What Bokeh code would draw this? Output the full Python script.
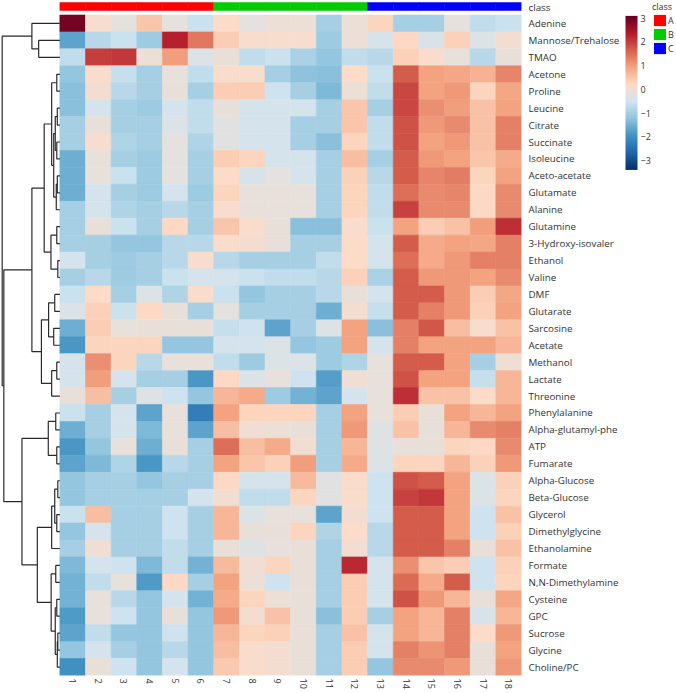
import numpy as np
from bokeh.plotting import figure
from bokeh.models import (LinearColorMapper, ColorBar, FixedTicker, LinearAxis, Range1d,
                          ColumnDataSource, Legend, LegendItem)
from bokeh.layouts import row
from bokeh.transform import transform
from bokeh.embed import file_html
from bokeh.resources import INLINE

# ---------------- data ----------------
metabolites = ["Adenine", "Mannose/Trehalose", "TMAO", "Acetone", "Proline", "Leucine", "Citrate",
               "Succinate", "Isoleucine", "Aceto-acetate", "Glutamate", "Alanine", "Glutamine",
               "3-Hydroxy-isovaler", "Ethanol", "Valine", "DMF", "Glutarate", "Sarcosine", "Acetate",
               "Methanol", "Lactate", "Threonine", "Phenylalanine", "Alpha-glutamyl-phe", "ATP",
               "Fumarate", "Alpha-Glucose", "Beta-Glucose", "Glycerol", "Dimethylglycine",
               "Ethanolamine", "Formate", "N,N-Dimethylamine", "Cysteine", "GPC", "Sucrose",
               "Glycine", "Choline/PC"]
samples = [str(i) for i in range(1, 19)]
sample_class = ["A"] * 6 + ["B"] * 6 + ["C"] * 6
class_names = ["A", "B", "C"]
class_colors = ["#FF0000", "#00CC00", "#0000FF"]
cbar_ticks = [-3, -2, -1, 0, 1, 2, 3]

values = [
    [2.95, 0.1, -0.2, 0.5, -0.2, -0.6, 0.2, -0.2, -0.05, -0.05, -1.0, -0.05, 0.3, -1.0, -1.0, -0.2, -0.7, -0.6],
    [-1.7, -0.8, -0.6, -1.1, 2.3, 1.4, 0.4, 0.1, 0.1, 0.1, -1.1, -0.05, -0.4, 0.25, -0.4, 0.35, -0.35, 0.05],
    [-0.7, 2.0, 2.05, -0.05, 1.0, -0.35, -0.1, -0.7, -0.6, -0.95, -1.2, -0.7, -0.8, 0.35, 0.15, -0.15, -0.8, -0.1],
    [-1.2, 0.15, -0.65, -1.0, -0.15, -0.7, 0.15, 0.1, -1.0, -1.25, -1.3, 0.2, -0.6, 1.7, 0.95, 0.9, 0.75, 1.25],
    [-1.3, 0.05, -0.8, -1.0, -0.1, -1.0, 0.4, 0.4, -0.55, -1.0, -1.4, -0.05, -0.7, 1.9, 0.95, 1.05, 0.3, 0.9],
    [-1.3, -0.45, -1.0, -1.1, -0.45, -0.7, -0.1, -0.45, -0.45, -0.45, -1.0, 0.5, -1.0, 1.9, 1.15, 1.0, 0.55, 0.95],
    [-1.0, -0.1, -1.0, -1.0, -0.35, -0.7, -0.25, -0.45, -0.45, -1.0, -1.0, 0.5, -0.7, 1.8, 1.05, 1.2, 0.55, 1.3],
    [-1.0, 0.1, -0.9, -1.0, -0.2, -0.9, -0.25, -0.45, -0.45, -1.0, -1.3, 0.3, -0.7, 1.8, 0.95, 1.05, 0.55, 1.3],
    [-1.55, -0.15, -1.0, -1.1, -0.2, -1.0, 0.4, 0.3, -0.45, -0.45, -1.0, 0.6, -1.0, 1.7, 1.05, 0.95, 0.5, 0.85],
    [-1.55, -0.15, -0.6, -1.1, -0.2, -1.0, 0.2, -0.4, -0.2, -0.45, -1.0, 0.35, -0.8, 1.7, 1.25, 1.35, 0.3, 0.95],
    [-1.55, -0.45, -1.0, -1.1, -0.45, -1.1, 0.3, -0.15, -0.15, -0.15, -1.0, 0.3, -0.7, 1.5, 1.2, 1.25, 0.25, 1.2],
    [-1.0, -0.45, -0.9, -1.0, -0.8, -1.0, 0.15, -0.15, -0.15, -0.15, -1.0, 0.3, -0.7, 1.95, 1.2, 1.2, 0.25, 1.2],
    [-1.0, -0.1, -0.6, -1.0, 0.25, -1.0, 0.5, 0.15, -0.1, -1.3, -1.3, 0.15, -0.6, 0.95, 0.4, 0.55, 1.0, 2.15],
    [-1.0, -1.0, -1.2, -1.2, -0.8, -0.8, 0.15, 0.05, -0.1, -1.0, -1.0, 0.2, -0.45, 1.7, 0.85, 0.95, 0.9, 1.3],
    [-0.45, -1.0, -1.1, -1.0, -0.8, 0.1, -0.8, -1.0, -1.0, -1.0, -0.7, 0.2, -0.45, 1.5, 0.85, 1.05, 1.3, 1.3],
    [-1.0, -0.8, -1.1, -1.0, -0.6, -0.45, -0.45, -0.6, -0.7, -0.7, -0.8, 0.35, -0.95, 1.7, 1.05, 1.05, 0.95, 1.2],
    [-0.6, 0.2, -1.0, -0.35, -0.9, 0.15, -0.6, -1.2, -1.0, -1.0, -0.8, -0.1, -0.45, 1.7, 1.7, 1.05, 0.4, 0.9],
    [-0.35, 0.35, -0.6, 0.25, -0.1, -1.0, -0.2, -1.0, -1.0, -1.0, -1.55, 0.05, -0.65, 1.7, 1.3, 1.05, 0.35, 0.95],
    [-1.55, 0.4, -0.15, -0.1, -0.1, -0.1, -0.65, -0.55, -1.7, -1.0, -0.35, 0.95, -1.3, 1.3, 1.75, 0.6, 0.1, 0.55],
    [-1.9, 0.3, 0.3, 0.3, -1.2, -1.2, -0.45, -0.45, -0.35, -1.2, -1.1, 0.95, -0.45, 1.3, 0.95, 0.95, 0.95, 0.7],
    [-0.45, 1.15, 0.3, -0.8, -0.15, -0.15, -0.7, -1.1, -0.35, -0.35, -1.1, -0.9, -0.15, 1.7, 1.7, 0.95, -1.0, 0.0],
    [-0.45, 1.0, -0.45, -1.0, -1.0, -1.9, 0.25, -0.35, -0.15, -0.55, -1.8, 0.0, -0.15, 1.8, 0.95, 0.95, -0.65, 0.7],
    [-0.1, 0.6, -1.0, -0.3, -0.55, -1.2, 0.7, 0.85, -1.1, -1.5, -1.7, -0.45, -0.15, 2.15, 0.55, 0.55, 0.2, 0.7],
    [-0.6, -1.0, -0.45, -1.7, -0.15, -2.3, 0.95, 0.3, 0.3, 0.3, -1.0, 0.95, -0.15, 0.4, -0.1, 0.95, 0.7, 0.95],
    [-1.55, -1.0, -0.45, -1.4, -0.15, -1.7, 0.6, 0.0, -0.05, -0.1, -1.0, 1.05, -0.3, 0.55, -0.1, 0.7, 1.2, 1.3],
    [-1.9, -1.2, -0.15, -1.55, -0.1, -1.0, 1.5, 0.6, 0.85, 0.05, -1.0, 0.7, -0.3, -0.1, -0.1, 0.3, 0.25, 1.2],
    [-1.7, -1.4, -0.9, -1.9, -0.8, -1.0, 0.95, 0.5, 0.35, 1.0, -1.0, 0.85, -0.35, 0.3, 0.3, 0.7, 0.35, 1.05],
    [-1.2, -1.0, -1.0, -1.2, -1.0, -1.0, 0.25, -0.45, -0.45, 0.65, -0.25, 0.15, -0.55, 1.8, 1.7, 0.95, -0.35, 0.35],
    [-1.2, -1.0, -1.0, -1.0, -1.0, -0.45, 0.05, -0.7, -0.7, 0.3, -0.25, 0.15, -0.55, 1.95, 2.05, 0.95, -0.35, 0.3],
    [-0.6, 0.6, -1.0, -1.0, -0.55, -1.0, 0.7, -0.35, -0.15, -0.15, -1.7, 0.05, -0.55, 1.7, 1.7, 0.95, -0.55, 0.55],
    [-1.2, -0.45, -1.0, -1.0, -0.55, -1.0, 0.7, -0.1, -0.1, 0.3, -0.9, 0.2, -0.8, 1.7, 1.7, 0.95, -0.55, 0.35],
    [-1.0, 0.0, -1.0, -1.0, -0.7, -1.0, -0.1, -0.3, -0.15, -0.1, -1.0, 0.05, -0.8, 1.7, 1.7, 1.3, -0.1, 0.55],
    [-1.4, -0.45, -0.55, -1.4, -0.7, -1.5, 0.65, 0.0, 0.3, -0.1, -1.0, 2.2, -0.45, 1.15, 0.5, 0.4, -0.55, 0.35],
    [-1.5, -0.7, -0.15, -1.85, 0.25, -1.0, 0.95, -0.05, -0.55, -0.1, -1.0, 0.4, -0.45, 1.55, 0.85, 1.7, -0.55, 0.3],
    [-1.5, -0.15, -0.8, -1.2, -0.45, -1.5, 0.85, 0.3, -0.05, -0.1, -1.0, 0.4, -0.45, 1.8, 1.05, 0.7, -0.1, 0.9],
    [-1.85, -0.15, -0.55, -1.2, -0.1, -1.2, 1.05, 0.05, 0.55, -0.1, -1.3, 0.4, -1.0, 0.95, 0.7, 1.3, -0.4, 0.7],
    [-1.7, -0.7, -1.2, -1.2, -0.55, -1.2, 0.7, 0.3, 0.35, -0.1, -1.0, 0.55, -0.45, 0.95, 0.7, 1.3, 0.2, 1.05],
    [-1.2, -0.45, -1.0, -1.2, -0.8, -1.2, 0.6, 0.15, 0.05, -0.1, -1.0, 0.4, -0.45, 1.3, 1.1, 1.3, -0.1, 0.95],
    [-2.0, -0.1, -0.55, -1.2, -0.45, -1.2, 0.45, 0.15, 0.05, -0.1, -1.0, 0.4, -1.2, 1.2, 1.2, 1.05, -0.1, 1.05],
]

# row dendrogram: (child a, child b, height); ids >= 39 refer to earlier merges
merges = [
    (1, 2, 20.7), (0, 39, 27.3),
    (3, 4, 3.0), (5, 6, 2.5), (7, 8, 3.0), (42, 43, 4.5), (9, 10, 2.5), (45, 11, 3.5),
    (44, 46, 6.0), (41, 47, 8.0), (12, 13, 3.0), (14, 15, 2.0), (49, 50, 8.7), (48, 51, 15.3),
    (16, 17, 5.0), (18, 19, 6.0), (53, 54, 11.0), (20, 21, 3.0), (56, 22, 8.0), (55, 57, 18.0),
    (52, 58, 27.3),
    (23, 24, 4.0), (25, 26, 3.0), (60, 61, 11.3),
    (27, 28, 2.0), (29, 30, 3.0), (63, 64, 5.0), (65, 31, 8.0),
    (32, 33, 4.0), (34, 35, 3.0), (36, 37, 2.0), (69, 38, 2.5), (68, 70, 4.5), (67, 71, 8.5),
    (66, 72, 22.0), (62, 73, 37.0), (59, 74, 54.7), (40, 75, 56.3),
]

# ---------------- styling / layout ----------------
FONT = "Open Sans"
TXT = "#333333"
FIG_H = 692
W1, W2 = 622, 54
RIGHT_B, BOTTOM_B = 98, 17
frame_w = W1 - RIGHT_B
frame_h = FIG_H - BOTTOM_B
heat_left_px = 59.7
heat_top_px = 14.5
n = len(metabolites)
m = len(samples)
col_px = (frame_w - heat_left_px) / m
row_px = (frame_h - heat_top_px) / n
dendro_px = 58.0

brewer_rdbu = ["#053061", "#2166AC", "#4393C3", "#92C5DE", "#D1E5F0",
               "#FDDBC7", "#F4A582", "#D6604D", "#B2182B", "#67001F"]
anch = np.array([[int(c[i:i + 2], 16) for i in (1, 3, 5)] for c in brewer_rdbu], float)
tt = np.linspace(0, 1, 256)
pp = np.linspace(0, 1, len(anch))
rgb = np.stack([np.interp(tt, pp, anch[:, j]) for j in range(3)], 1)
palette = ["#%02x%02x%02x" % tuple(int(round(v)) for v in c) for c in rgb]
mapper = LinearColorMapper(palette=palette, low=-3.4, high=3.1)

p = figure(width=W1, height=FIG_H, output_backend="svg", toolbar_location=None,
           x_axis_location=None, y_axis_location=None,
           x_range=Range1d(-heat_left_px / col_px, m),
           y_range=Range1d(0, n + heat_top_px / row_px),
           min_border_left=0, min_border_top=0, min_border_right=RIGHT_B,
           min_border_bottom=BOTTOM_B)
p.outline_line_color = None
p.background_fill_color = "white"
p.border_fill_color = "white"
p.grid.visible = False

# heatmap cells
xs, ys, vs = [], [], []
for i, rowv in enumerate(values):
    for j, v in enumerate(rowv):
        xs.append(j + 0.5)
        ys.append(n - i - 0.5)
        vs.append(v)
src = ColumnDataSource(dict(x=xs, y=ys, v=vs))
p.rect("x", "y", width=1, height=1, source=src,
       fill_color=transform("v", mapper), line_color=transform("v", mapper), line_width=0.6)

# class annotation bar
cmap = dict(zip(class_names, class_colors))
bar_lo = n + (heat_top_px - 10.0) / row_px
bar_hi = n + (heat_top_px - 2.0) / row_px
class_y = (bar_lo + bar_hi) / 2
csrc = ColumnDataSource(dict(x=[j + 0.5 for j in range(m)], y=[class_y] * m,
                             c=[cmap[c] for c in sample_class]))
p.rect("x", "y", width=1, height=bar_hi - bar_lo, source=csrc,
       fill_color="c", line_color="c", line_width=0.5)

# dendrogram
dscale = dendro_px / merges[-1][2] / col_px
node_x = {i: 0.0 for i in range(n)}
node_y = {i: n - i - 0.5 for i in range(n)}
dx, dy = [], []
for k, (a, b, h) in enumerate(merges):
    hx = -h * dscale
    dx.append([node_x[a], hx, hx, node_x[b]])
    dy.append([node_y[a], node_y[a], node_y[b], node_y[b]])
    node_x[n + k] = hx
    node_y[n + k] = (node_y[a] + node_y[b]) / 2
p.multi_line(dx, dy, line_color="#2a2a2a", line_width=1.2)

# row labels (right axis)
row_ticks = [n - i - 0.5 for i in range(n)]
over = {t: lab for t, lab in zip(row_ticks, metabolites)}
over[class_y] = "class"
yax = LinearAxis(ticker=FixedTicker(ticks=row_ticks + [class_y], minor_ticks=[]),
                 major_label_overrides=over)
# column labels (below axis)
col_ticks = [j + 0.5 for j in range(m)]
xax = LinearAxis(ticker=FixedTicker(ticks=col_ticks, minor_ticks=[]),
                 major_label_overrides={t: s for t, s in zip(col_ticks, samples)},
                 major_label_orientation=-np.pi / 2)
for ax, sz, so in ((yax, "9.8px", 7), (xax, "9px", 3)):
    ax.axis_line_color = None
    ax.major_tick_line_color = None
    ax.minor_tick_line_color = None
    ax.major_tick_out = 0
    ax.major_tick_in = 0
    ax.major_label_standoff = so
    ax.major_label_text_font = FONT
    ax.major_label_text_font_size = sz
    ax.major_label_text_color = TXT
p.add_layout(yax, "right")
p.add_layout(xax, "below")

# ---------------- legend figure ----------------
p2 = figure(width=W2, height=FIG_H, output_backend="svg", toolbar_location=None,
            x_axis_location=None, y_axis_location=None,
            x_range=Range1d(0, W2), y_range=Range1d(0, FIG_H),
            min_border=0, min_border_left=0, min_border_right=0,
            min_border_top=0, min_border_bottom=0)
p2.outline_line_color = None
p2.background_fill_color = "white"
p2.border_fill_color = "white"
p2.grid.visible = False

cb_top, cb_h = 14, 154
cbar = ColorBar(color_mapper=mapper, ticker=FixedTicker(ticks=cbar_ticks, minor_ticks=[]),
                width=12, height=cb_h, location=(3, FIG_H - cb_top - cb_h - 18.4),
                orientation="vertical", padding=0, margin=0, label_standoff=3,
                major_tick_line_color=None, minor_tick_line_color=None, bar_line_color=None,
                border_line_color=None, background_fill_color=None,
                major_label_text_font=FONT, major_label_text_font_size="9px",
                major_label_text_color=TXT)
p2.add_layout(cbar, "center")

# legend proxies (kept outside the visible range; only their swatches are shown)
items = []
for cname, ccol in zip(class_names, class_colors):
    r = p2.rect(x=[-100], y=[-100], width=1, height=1, fill_color=ccol, line_color=None)
    items.append(LegendItem(label=cname, renderers=[r]))
leg = Legend(items=items, location="top_right", margin=0, padding=1, spacing=0,
             glyph_width=15, glyph_height=14, label_height=12, label_width=8, label_standoff=1,
             title="class", title_standoff=0, title_text_font=FONT, title_text_font_size="9px",
             title_text_font_style="normal", title_text_color=TXT,
             label_text_font=FONT, label_text_font_size="9px", label_text_color=TXT,
             border_line_color=None, background_fill_alpha=0)
p2.add_layout(leg, "center")

layout = row(p, p2)
open("out.html", "w").write(file_html(layout, INLINE))
